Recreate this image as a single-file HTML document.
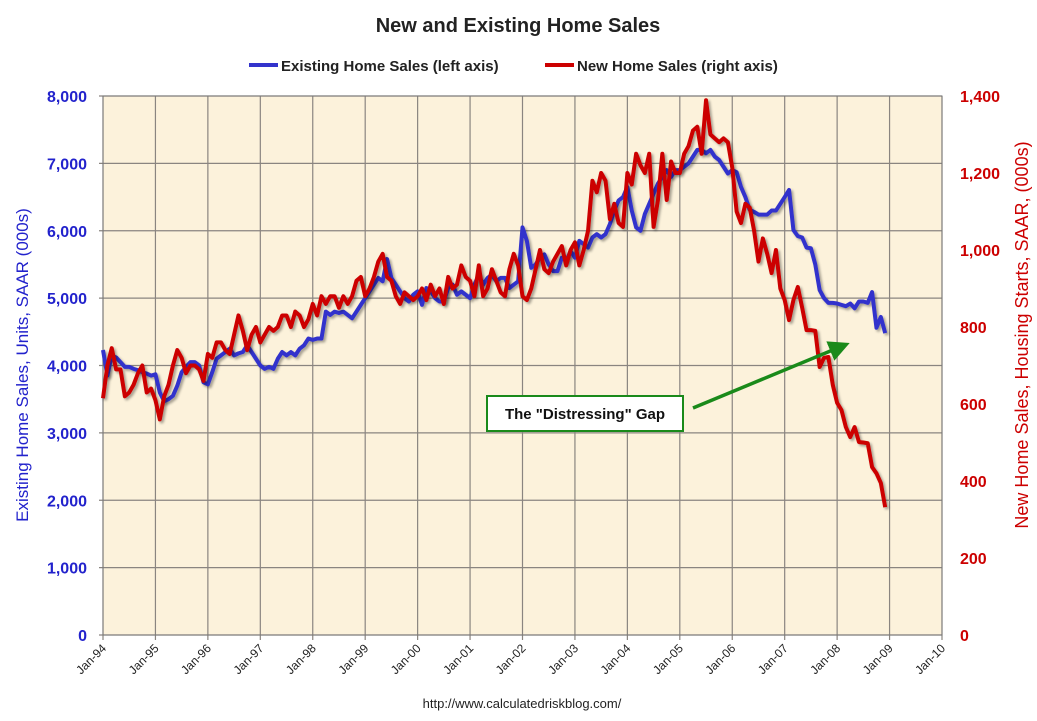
<!DOCTYPE html>
<html><head><meta charset="utf-8"><style>
body{margin:0;background:#fff;width:1037px;height:716px;overflow:hidden;font-family:"Liberation Sans",sans-serif}
</style></head><body>
<svg id="chart" width="1037" height="716" xmlns="http://www.w3.org/2000/svg">
<defs>
<filter id="sh" x="-5%" y="-5%" width="110%" height="110%"><feDropShadow dx="2" dy="2" stdDeviation="1.2" flood-color="#000" flood-opacity="0.35"/></filter>
<marker id="ah" markerWidth="6" markerHeight="6" refX="3" refY="3" orient="auto"><path d="M0,0 L6,3 L0,6 Z" fill="#1a8a1a"/></marker>
</defs>
<text x="518" y="32" text-anchor="middle" font-size="20" font-weight="bold" fill="#222">New and Existing Home Sales</text>
<g>
<line x1="249" y1="65" x2="278" y2="65" stroke="#3333cc" stroke-width="4"/>
<text x="281" y="71" font-size="15" font-weight="bold" fill="#222">Existing Home Sales (left axis)</text>
<line x1="545" y1="65" x2="574" y2="65" stroke="#cc0000" stroke-width="4"/>
<text x="577" y="71" font-size="15" font-weight="bold" fill="#222">New Home Sales (right axis)</text>
</g>
<rect x="103" y="96" width="839" height="539" fill="#fcf2db"/>
<g id="grid"></g><g id="axes"></g><g id="series"></g>
<text transform="translate(28,365) rotate(-90)" text-anchor="middle" font-size="17" fill="#2222cc">Existing Home Sales, Units, SAAR (000s)</text>
<text transform="translate(1028,335) rotate(-90)" text-anchor="middle" font-size="18" fill="#cc0000">New Home Sales, Housing Starts, SAAR, (000s)</text>
<g>
<rect x="487" y="396" width="196" height="35" fill="#fff" stroke="#1a8a1a" stroke-width="2"/>
<text x="585" y="419" text-anchor="middle" font-size="15" font-weight="bold" fill="#111">The "Distressing" Gap</text>
<line x1="693" y1="408" x2="840" y2="347" stroke="#1a8a1a" stroke-width="3.5" marker-end="url(#ah)"/>
</g>
<text x="522" y="708" text-anchor="middle" font-size="13" fill="#222">http://www.calculatedriskblog.com/</text>
</svg>
<script>
const xLabels=["Jan-94","Jan-95","Jan-96","Jan-97","Jan-98","Jan-99","Jan-00","Jan-01","Jan-02","Jan-03","Jan-04","Jan-05","Jan-06","Jan-07","Jan-08","Jan-09","Jan-10"];
const leftTicks=[0,1000,2000,3000,4000,5000,6000,7000,8000];
const rightTicks=[0,200,400,600,800,1000,1200,1400];
const existingSales=[
4230,3850,4150,4120,4050,3980,3980,3950,3930,3900,3880,3850,
3870,3600,3470,3500,3550,3700,3900,3980,4050,4050,4000,3750,
3720,3900,4100,4150,4200,4250,4150,4180,4200,4300,4200,4100,
4000,3950,3980,3950,4100,4200,4150,4200,4150,4250,4300,4400,
4380,4400,4400,4800,4750,4800,4780,4800,4750,4700,4800,4900,
5000,5100,5200,5300,5250,5580,5300,5200,5100,5000,4950,5050,
5100,4900,5150,5100,5000,4950,4950,5150,5200,5050,5100,5050,
5000,5200,5350,5200,5300,5350,5250,5300,5300,5150,5200,5250,
6050,5850,5450,5500,5600,5650,5500,5400,5400,5600,5550,5700,
5600,5850,5800,5750,5900,5950,5900,5950,6100,6300,6450,6500,
6650,6300,6050,6000,6250,6400,6550,6700,6800,6900,6800,6900,
6900,6950,7000,7100,7200,7200,7150,7200,7100,7050,6950,6850,
6900,6870,6650,6500,6310,6280,6240,6240,6240,6300,6300,6400,
6500,6605,6010,5920,5900,5750,5740,5500,5120,5000,4930,4930,
4920,4900,4880,4920,4850,4950,4950,4930,5090,4560,4720,4480];
const newSales=[
615,700,745,690,690,620,630,650,680,700,630,640,
610,560,620,650,700,740,720,680,700,700,690,660,
730,720,760,760,740,730,780,830,790,740,780,800,
760,780,800,790,800,830,830,800,840,830,800,820,
860,830,880,860,880,880,850,880,860,880,920,930,
880,900,930,970,990,930,920,880,860,890,880,870,
880,900,870,910,880,900,860,930,900,910,960,930,
920,880,960,880,900,950,920,890,880,950,990,960,
880,870,900,950,1000,950,940,970,990,1010,960,1000,
1020,960,1000,1050,1180,1150,1200,1180,1080,1120,1070,1060,
1200,1170,1250,1220,1200,1250,1060,1130,1250,1130,1230,1200,
1200,1250,1270,1310,1320,1250,1389,1300,1290,1280,1290,1280,
1214,1100,1070,1120,1110,1050,970,1030,990,940,1000,900,
870,818,870,904,850,792,792,790,696,720,722,650,
603,584,540,514,540,501,500,498,436,420,395,332];
const X0=103,X1=942,Y0=635,Y1=96,NS="http://www.w3.org/2000/svg";
const xMonth=i=>X0+(X1-X0)*i/192;
const yL=v=>Y0-(Y0-Y1)*v/8000;
const yR=v=>Y0-(Y0-Y1)*v/1400;
function mk(t,a,p){const e=document.createElementNS(NS,t);for(const k in a)e.setAttribute(k,a[k]);p.appendChild(e);return e;}
const grid=document.getElementById('grid'),axes=document.getElementById('axes'),ser=document.getElementById('series');
xLabels.forEach((l,i)=>{const x=xMonth(i*12);
 const g=mk('line',{x1:x,y1:Y1,x2:x,y2:Y0+5,stroke:'#8a8580','stroke-width':1.2},grid);
 
 
 const t=mk('text',{transform:`translate(${x+4},${Y0+14}) rotate(-45)`,'text-anchor':'end','font-size':12,fill:'#222'},axes);
 t.textContent=l;
 
 
});
leftTicks.forEach(v=>{const y=yL(v);
 const g=mk('line',{x1:X0-4,y1:y,x2:X1,y2:y,stroke:'#8a8580','stroke-width':1.2},grid);
 
 
 const t=mk('text',{x:X0-16,y:y+6,'text-anchor':'end','font-size':16,'font-weight':'bold',fill:'#2222cc'},axes);
 t.textContent=v.toLocaleString('en-US');
 
 
});
rightTicks.forEach(v=>{const y=yR(v);
 const t=mk('text',{x:X1+18,y:y+6,'font-size':16,'font-weight':'bold',fill:'#cc0000'},axes);
 t.textContent=v.toLocaleString('en-US');
 
 
});
const ax=mk('rect',{x:X0,y:Y1,width:X1-X0,height:Y0-Y1,fill:'none',stroke:'#777','stroke-width':1},axes);


const pe=mk('polyline',{points:existingSales.map((v,i)=>xMonth(i)+','+yL(v)).join(' '),fill:'none',stroke:'#3333cc','stroke-width':4,'stroke-linejoin':'round',filter:'url(#sh)'},ser);


const pn=mk('polyline',{points:newSales.map((v,i)=>xMonth(i)+','+yR(v)).join(' '),fill:'none',stroke:'#cc0000','stroke-width':4,'stroke-linejoin':'round',filter:'url(#sh)'},ser);


</script>
</body></html>
